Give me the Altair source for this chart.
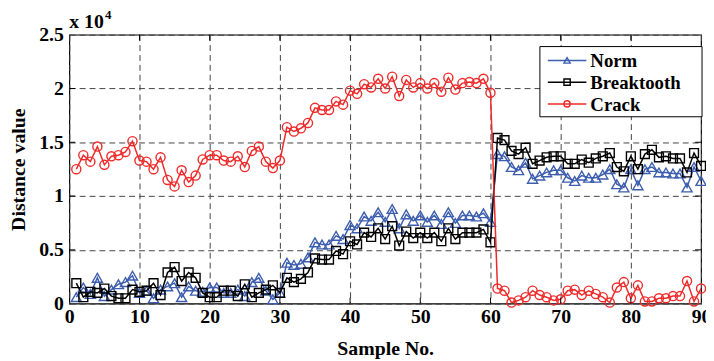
import altair as alt
import pandas as pd

samples = list(range(1, 91))

norm = [0.06, 0.15, 0.09, 0.24, 0.07, 0.13, 0.18, 0.20, 0.26, 0.10,
        0.12, 0.05, 0.13, 0.16, 0.19, 0.06, 0.16, 0.12, 0.11, 0.15,
        0.15, 0.10, 0.10, 0.13, 0.07, 0.20, 0.24, 0.12, 0.04, 0.10,
        0.38, 0.36, 0.37, 0.43, 0.57, 0.55, 0.55, 0.63, 0.60, 0.73,
        0.70, 0.81, 0.77, 0.85, 0.76, 0.88, 0.70, 0.83, 0.77, 0.82,
        0.76, 0.82, 0.74, 0.85, 0.75, 0.82, 0.82, 0.81, 0.84, 0.76,
        1.39, 1.37, 1.27, 1.24, 1.31, 1.16, 1.19, 1.22, 1.24, 1.24,
        1.17, 1.14, 1.19, 1.17, 1.17, 1.20, 1.25, 1.11, 1.08, 1.25,
        1.10, 1.25, 1.27, 1.22, 1.22, 1.21, 1.21, 1.08, 1.27, 1.14]

breaktooth = [0.19, 0.06, 0.11, 0.10, 0.14, 0.07, 0.05, 0.05, 0.13, 0.11,
              0.12, 0.19, 0.08, 0.29, 0.34, 0.21, 0.29, 0.24, 0.10, 0.06,
              0.06, 0.12, 0.12, 0.07, 0.18, 0.06, 0.10, 0.13, 0.17, 0.10,
              0.24, 0.20, 0.23, 0.29, 0.42, 0.41, 0.41, 0.49, 0.46, 0.58,
              0.55, 0.66, 0.62, 0.70, 0.60, 0.72, 0.54, 0.67, 0.61, 0.66,
              0.61, 0.66, 0.58, 0.70, 0.60, 0.66, 0.66, 0.66, 0.69, 0.57,
              1.54, 1.52, 1.42, 1.39, 1.45, 1.30, 1.33, 1.36, 1.37, 1.37,
              1.30, 1.30, 1.34, 1.31, 1.35, 1.37, 1.40, 1.27, 1.23, 1.37,
              1.25, 1.39, 1.43, 1.36, 1.37, 1.35, 1.35, 1.22, 1.40, 1.28]

crack = [1.25, 1.38, 1.32, 1.46, 1.29, 1.37, 1.38, 1.41, 1.51, 1.33,
         1.32, 1.25, 1.36, 1.15, 1.09, 1.24, 1.13, 1.19, 1.34, 1.38,
         1.38, 1.33, 1.32, 1.37, 1.27, 1.42, 1.46, 1.32, 1.26, 1.33,
         1.64, 1.60, 1.63, 1.68, 1.82, 1.80, 1.80, 1.88, 1.85, 1.98,
         1.95, 2.04, 2.01, 2.09, 2.00, 2.11, 1.93, 2.08, 2.01, 2.05,
         2.00, 2.05, 1.97, 2.10, 1.99, 2.05, 2.06, 2.05, 2.09, 1.96,
         0.14, 0.12, 0.01, 0.03, 0.06, 0.12, 0.08, 0.06, 0.03, 0.04,
         0.12, 0.13, 0.08, 0.12, 0.09, 0.06, 0.01, 0.15, 0.20, 0.05,
         0.17, 0.02, 0.02, 0.05, 0.05, 0.07, 0.07, 0.21, 0.02, 0.14]

series_names = ["Norm", "Breaktooth", "Crack"]
series_values = [norm, breaktooth, crack]
series_colors = ["#3d5eae", "#000000", "#ee2a2a"]
series_shapes = ["triangle-up", "square", "circle"]
series_sizes = [105, 80, 85]

x_ticks = list(range(0, 91, 10))
y_ticks = [0, 0.5, 1, 1.5, 2, 2.5]

FONT = "Liberation Serif"
W, H = 639, 272

x_scale = alt.Scale(domain=[0, 90], nice=False, zero=False)
y_scale = alt.Scale(domain=[0, 2.5], nice=False)

x_axis = alt.Axis(values=x_ticks, grid=True, gridDash=[6, 4], gridColor="#444444",
                  gridWidth=1, ticks=False, domain=False, labelFont=FONT,
                  labelFontWeight="bold", labelFontSize=20, labelColor="black",
                  labelPadding=3, labelFlush=False, title="Sample No.",
                  titleFont=FONT, titleFontWeight="bold", titleFontSize=20,
                  titleColor="black", titlePadding=12)
y_axis = alt.Axis(values=y_ticks, format="~g", grid=True, gridDash=[6, 4],
                  gridColor="#444444", gridWidth=1, ticks=False, domain=False,
                  labelFont=FONT, labelFontWeight="bold", labelFontSize=20,
                  labelColor="black", labelPadding=6, labelFlush=False,
                  title="Distance value", titleFont=FONT, titleFontWeight="bold",
                  titleFontSize=20, titleColor="black", titlePadding=10)


def X(field):
    return alt.X(field, type="quantitative", scale=x_scale, axis=x_axis)


def Y(field):
    return alt.Y(field, type="quantitative", scale=y_scale, axis=y_axis)


layers = []

for name, vals, col, shp, sz in zip(series_names, series_values, series_colors,
                                    series_shapes, series_sizes):
    df = pd.DataFrame({"sample": samples, "value": vals})
    layers.append(alt.Chart(df).mark_line(color=col, strokeWidth=1.5).encode(
        x=X("sample"), y=Y("value")))
    layers.append(alt.Chart(df).mark_point(color=col, shape=shp, size=sz,
                                           filled=False, strokeWidth=1.4,
                                           opacity=1).encode(
        x=X("sample"), y=Y("value")))

# inward ticks (MATLAB style) on all four sides
xt = pd.DataFrame({"sample": x_ticks[1:-1]})
yt = pd.DataFrame({"value": y_ticks[1:-1]})
for y0, y1 in [(H, H - 6), (0, 6)]:
    layers.append(alt.Chart(xt).mark_rule(color="black", strokeWidth=1).encode(
        x=X("sample"), y=alt.value(y0), y2=alt.value(y1)))
for x0, x1 in [(0, 6), (W, W - 6)]:
    layers.append(alt.Chart(yt).mark_rule(color="black", strokeWidth=1).encode(
        y=Y("value"), x=alt.value(x0), x2=alt.value(x1)))

# exponent annotation "x 10^4"
layers.append(alt.Chart(pd.DataFrame({"t": ["x 10"]})).mark_text(
    font=FONT, fontWeight="bold", fontSize=20, align="left", baseline="alphabetic",
    color="black").encode(text="t:N", x=alt.value(0), y=alt.value(-7)))
layers.append(alt.Chart(pd.DataFrame({"t": ["4"]})).mark_text(
    font=FONT, fontWeight="bold", fontSize=13, align="left", baseline="alphabetic",
    color="black").encode(text="t:N", x=alt.value(36), y=alt.value(-16)))

# legend box
LX0, LX1, LY0, LY1 = 476, 640, 12, 83
layers.append(alt.Chart(pd.DataFrame({"a": [0]})).mark_rect(
    fill="white", stroke="black", strokeWidth=1).encode(
    x=alt.value(LX0), x2=alt.value(LX1), y=alt.value(LY0), y2=alt.value(LY1)))
row_y = [26, 48, 70]
for name, col, shp, ry in zip(series_names, series_colors, series_shapes, row_y):
    ld = pd.DataFrame({"name": [name]})
    layers.append(alt.Chart(ld).mark_rule(color=col, strokeWidth=1.5).encode(
        x=alt.value(484), x2=alt.value(523), y=alt.value(ry)))
    layers.append(alt.Chart(ld).mark_point(color=col, shape=shp, size=40, filled=False,
                                           strokeWidth=1.4, opacity=1).encode(
        x=alt.value(503.5), y=alt.value(ry)))
    layers.append(alt.Chart(ld).mark_text(font=FONT, fontWeight="bold", fontSize=19,
                                          align="left", baseline="middle",
                                          color="black").encode(
        text="name:N", x=alt.value(527), y=alt.value(ry + 1)))

chart = alt.layer(*layers).properties(
    width=W, height=H,
    autosize=alt.AutoSizeParams(type="none"),
    padding={"left": 62, "top": 25, "right": 5, "bottom": 55},
    background="white",
).configure_view(stroke="black", strokeWidth=1.2)

chart.save("out.html", embed_options={"renderer": "svg", "actions": False})
